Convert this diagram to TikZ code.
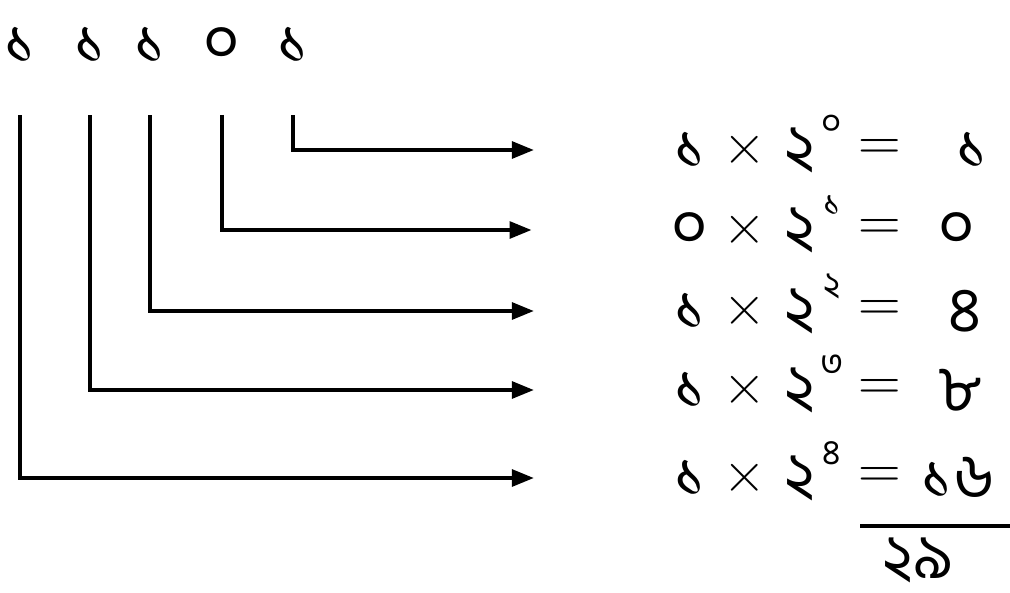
\documentclass[tikz,border=0pt]{standalone}
\usepackage{fontspec}
\newfontfamily\bn[Script=Bengali]{Hind Siliguri}
\usetikzlibrary{arrows.meta}
\tikzset{wire/.style={-{Triangle[length=.55cm,width=.42cm]},line width=2.6pt,
 shorten <=1.3cm,shorten >=3.5cm},
 every node/.style={font=\bn\fontsize{45}{50}\selectfont,inner sep=0pt},
 pow/.style={font=\bn\fontsize{25}{28}\selectfont},
 sym/.style={font=\rmfamily\fontsize{42}{48}\selectfont}}

\begin{document}
\begin{tikzpicture}[x=.025cm,y=-.025cm]
\useasboundingbox (0,0) rectangle (1010,592);
\foreach \n/\x/\d in {1/20/১,2/90/১,3/150/১,4/222/০,5/293/১}
 \node (d\n) at (\x,45) {\d};
\foreach \r/\y/\a/\p/\v/\vx in {1/150/১/০/১/972,2/230/০/১/০/957,3/311/১/২/৪/965,
 4/390/১/৩/৮/960,5/478/১/৪/১৬/958}
 {\node (a\r) at (690,\y) {\a};
  \node[sym] (m\r) at (745,\y) {×};
  \node (t\r) at (800,\y) {২};
  \node[pow] (p\r) at (832,\y-25) {\p};
  \node[sym] (e\r) at (880,\y) {=};
  \node (v\r) at (\vx,\y) {\v};}
\draw[wire] (d5.south) |- (a1.west);
\draw[wire] (d4.south) |- (a2.west);
\draw[wire] (d3.south) |- (a3.west);
\draw[wire] (d2.south) |- (a4.west);
\draw[wire] (d1.south) |- (a5.west);
\draw[line width=2.6pt] (860,526) -- (1010,526);
\node[anchor=base,text depth=0pt] (sum) at (918,578) {২৯};
\end{tikzpicture}
\end{document}
